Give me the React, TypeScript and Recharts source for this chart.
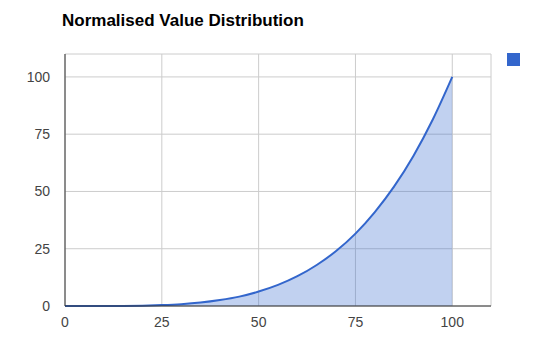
import { AreaChart, Area, XAxis, YAxis, CartesianGrid } from "recharts";

// x positions and the read-off normalised values
const xValues = [0, 5, 10, 15, 20, 25, 30, 35, 40, 45, 50, 55, 60, 65, 70, 75, 80, 85, 90, 95, 100];
const yValues = [0, 0, 0.01, 0.05, 0.16, 0.4, 0.8, 1.5, 2.6, 4.1, 6.3, 9.2, 13, 17.9, 24, 31.6, 41, 52.2, 65.6, 81.5, 100];
const xTicks = [0, 25, 50, 75, 100];
const yTicks = [0, 25, 50, 75, 100];

const data = xValues.map((x, i) => ({ x, value: yValues[i] }));

const font = "Arial, 'Liberation Sans', sans-serif";
const tickStyle = { fill: "#444", fontSize: 14, fontFamily: font };

const App = () => {
  return (
    <div style={{ position: "fixed", left: 0, top: 0, width: 553, height: 355, background: "#fff" }}>
      <div
        style={{
          position: "absolute",
          left: 62,
          top: 11,
          fontFamily: font,
          fontWeight: "bold",
          fontSize: 17,
          color: "#000",
        }}
      >
        Normalised Value Distribution
      </div>
      {/* legend marker, no label */}
      <div style={{ position: "absolute", left: 507, top: 53, width: 13, height: 13, background: "#3366cc" }} />
      <AreaChart width={553} height={355} data={data} margin={{ top: 54, right: 62, bottom: 0, left: 0 }}>
        <CartesianGrid stroke="#ccc" />
        <XAxis
          dataKey="x"
          type="number"
          domain={[0, 110]}
          ticks={xTicks}
          tick={tickStyle}
          tickSize={0}
          tickMargin={11}
          height={49}
          axisLine={{ stroke: "#333" }}
        />
        <YAxis
          type="number"
          domain={[0, 110]}
          ticks={yTicks}
          tick={tickStyle}
          tickSize={0}
          tickMargin={15}
          width={65}
          axisLine={{ stroke: "#333" }}
        />
        <Area
          type="monotone"
          dataKey="value"
          stroke="#3366cc"
          strokeWidth={2}
          fill="#3366cc"
          fillOpacity={0.3}
          dot={false}
          activeDot={false}
          isAnimationActive={false}
        />
      </AreaChart>
    </div>
  );
};

export default App;
